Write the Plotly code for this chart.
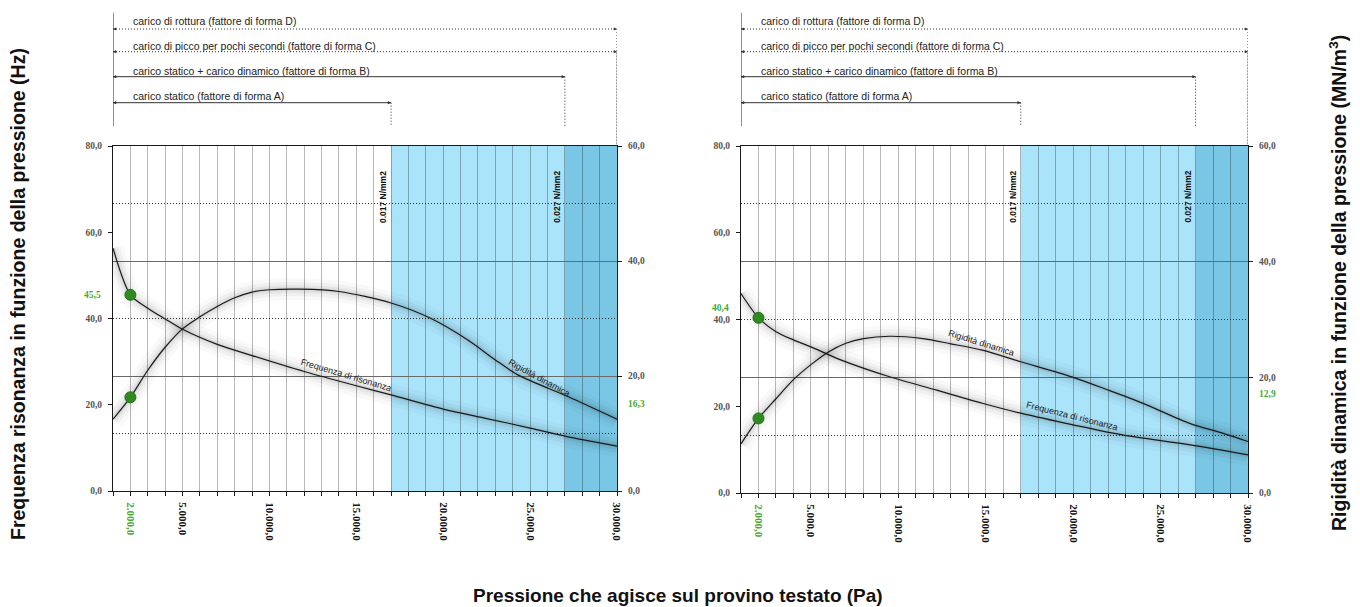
import plotly.graph_objects as go

# ---------------- DATA ----------------
# Left panel
p_freq_L = [1000, 2000, 3000, 4000, 5000, 7000, 9000, 12000, 15000, 17000, 20000, 22500, 25000, 27500, 30000]
freq_L = [56.3, 45.5, 42.4, 39.9, 37.5, 34.0, 31.4, 27.7, 24.4, 22.3, 19.0, 16.8, 14.6, 12.3, 10.4]
p_rig_L = [1000, 2000, 3000, 4000, 5000, 6000, 7000, 8000, 9000, 10000, 11800, 14000, 17000, 19300, 21400, 23000, 24300, 27200, 30000]
rig_L = [12.5, 16.3, 21.0, 25.0, 28.2, 30.3, 32.1, 33.6, 34.6, 35.0, 35.1, 34.7, 32.7, 30.0, 26.3, 22.8, 20.2, 16.4, 12.5]

# Right panel
p_freq_R = [1000, 2000, 3000, 4000, 5000, 6700, 9500, 12200, 14800, 17000, 20000, 22800, 26700, 30000]
freq_R = [46.0, 40.4, 37.2, 35.3, 33.7, 30.7, 26.8, 23.7, 20.7, 18.4, 15.7, 13.4, 11.1, 8.8]
p_rig_R = [1000, 2000, 3000, 4000, 5000, 6000, 7000, 8000, 9500, 11400, 13000, 14800, 17000, 20000, 22000, 24000, 26700, 28500, 30000]
rig_R = [8.5, 12.9, 16.3, 19.6, 22.2, 24.4, 25.9, 26.7, 27.1, 26.7, 25.8, 24.7, 22.7, 20.0, 17.8, 15.5, 12.0, 10.4, 8.9]

# Highlighted points (pressure 2000 Pa)
mark_p = 2000
mark_freq = [45.5, 40.4]
mark_rig = [16.3, 12.9]

# Load thresholds (Pa)
x_start, x_static, x_dyn, x_end = 1000, 17000, 27000, 30000
threshold_labels = ["0.017 N/mm2", "0.027 N/mm2"]

bracket_texts = [
    "carico di rottura (fattore di forma D)",
    "carico di picco per pochi secondi (fattore di forma C)",
    "carico statico + carico dinamico (fattore di forma B)",
    "carico statico (fattore di forma A)",
]
bracket_ends = [x_end, x_end, x_dyn, x_static]
bracket_dash = ["dot", "dot", "solid", "solid"]

x_tick_vals = list(range(1000, 31000, 1000))
x_label_vals = [2000, 5000, 10000, 15000, 20000, 25000, 30000]
yL_ticks = [0, 20, 40, 60, 80]
yR_ticks = [0, 20, 40, 60]
yR_minor = [10, 30, 50]

curve_label_freq = "Frequenza di risonanza"
curve_label_rig = "Rigidità dinamica"

# ---------------- HELPERS ----------------
W, H = 1360, 607
def py(y):
    return 1 - y / H

def it(v, d=1):
    s = f"{v:,.{d}f}"
    return s.replace(",", "X").replace(".", ",").replace("X", ".")

GREEN = "#4aa832"
SANS = "Liberation Sans, Arial, sans-serif"
SERIF = "Liberation Serif, Times New Roman, serif"
FINE_DOT = "1px,2px"

x_tick_text = []
for v in x_tick_vals:
    if v in x_label_vals:
        t = it(v)
        if v == mark_p:
            t = f"<span style='color:{GREEN}'>{t}</span>"
        x_tick_text.append(t)
    else:
        x_tick_text.append("")

fig = go.Figure()

panels = [
    dict(x="x", yl="y", yr="y2", pf=p_freq_L, f=freq_L, pr=p_rig_L, r=rig_L, i=0),
    dict(x="x2", yl="y3", yr="y4", pf=p_freq_R, f=freq_R, pr=p_rig_R, r=rig_R, i=1),
]

for P in panels:
    for (xs, ys, yax) in [(P["pf"], P["f"], P["yl"]), (P["pr"], P["r"], P["yr"])]:
        for w, a in [(22, 0.025), (14, 0.035), (8, 0.045), (4, 0.05)]:
            fig.add_trace(go.Scatter(x=xs, y=ys, xaxis=P["x"], yaxis=yax, mode="lines",
                                     line=dict(color=f"rgba(0,0,0,{a})", width=w, shape="spline", smoothing=0.8),
                                     hoverinfo="skip"))
        fig.add_trace(go.Scatter(x=xs, y=ys, xaxis=P["x"], yaxis=yax, mode="lines",
                                 line=dict(color="#1a1a1a", width=1.2, shape="spline", smoothing=0.8)))
    i = P["i"]
    fig.add_trace(go.Scatter(x=[mark_p], y=[mark_freq[i]], xaxis=P["x"], yaxis=P["yl"], mode="markers",
                             marker=dict(size=11, color="#2f8a1f", line=dict(color="#22701a", width=1))))
    fig.add_trace(go.Scatter(x=[mark_p], y=[mark_rig[i]], xaxis=P["x"], yaxis=P["yr"], mode="markers",
                             marker=dict(size=11, color="#2f8a1f", line=dict(color="#22701a", width=1))))

doms = [[113 / W, 617 / W], [741 / W, 1248 / W]]
ydoms = [[py(491), py(146)], [py(493), py(146)]]

tickfont_y = dict(family=SERIF, size=9.5, color="#555555", weight="bold")
line_col = "#1a1a1a"

layout = dict(
    width=W, height=H, margin=dict(l=0, r=0, t=0, b=0, autoexpand=False),
    paper_bgcolor="white", plot_bgcolor="white", showlegend=False,
    separators=",.",
)
for k, (xa, yl, yr) in enumerate([("xaxis", "yaxis", "yaxis2"), ("xaxis2", "yaxis3", "yaxis4")]):
    xname = "x" if k == 0 else "x2"
    ylname = "y" if k == 0 else "y3"
    layout[xa] = dict(domain=doms[k], anchor=ylname, range=[x_start, x_end], automargin=False,
                      tickmode="array", tickvals=x_tick_vals, ticktext=x_tick_text,
                      tickangle=90, ticks="outside", ticklen=4, tickcolor=line_col,
                      tickfont=dict(family=SERIF, size=11, color="#111111", weight="bold"),
                      showgrid=True, gridcolor="rgba(0,0,0,0.28)", gridwidth=1,
                      showline=True, mirror=True, linecolor=line_col, linewidth=1.2,
                      zeroline=False, ticklabelstandoff=4)
    layout[yl] = dict(domain=ydoms[k], anchor=xname, range=[0, 80], automargin=False,
                      tickmode="array", tickvals=yL_ticks, ticktext=[it(v) for v in yL_ticks],
                      ticks="outside", ticklen=4, tickcolor=line_col, tickfont=tickfont_y,
                      showgrid=False, showline=True, linecolor=line_col, linewidth=1.2, zeroline=False,
                      ticklabelstandoff=4)
    layout[yr] = dict(overlaying=ylname, anchor=xname, side="right", range=[0, 60], automargin=False,
                      tickmode="array", tickvals=yR_ticks, ticktext=[it(v) for v in yR_ticks],
                      ticks="outside", ticklen=4, tickcolor=line_col, tickfont=tickfont_y,
                      showgrid=True, gridcolor="#6a6a6a", gridwidth=1,
                      minor=dict(tickmode="array", tickvals=yR_minor, showgrid=True, griddash=FINE_DOT,
                                 gridcolor="#333333", gridwidth=1, ticks=""),
                      showline=True, linecolor=line_col, linewidth=1.2, zeroline=False,
                      ticklabelstandoff=4)
fig.update_layout(**layout)

shapes = []
annotations = []
for k, P in enumerate(panels):
    xr = P["x"]
    ylname = P["yl"]
    # blue zones
    shapes.append(dict(type="rect", xref=xr, yref=f"{ylname} domain", x0=x_static, x1=x_dyn, y0=0, y1=1,
                       fillcolor="#a9e4fb", line=dict(width=0), layer="below"))
    shapes.append(dict(type="rect", xref=xr, yref=f"{ylname} domain", x0=x_dyn, x1=x_end, y0=0, y1=1,
                       fillcolor="#79c7e5", line=dict(width=0), layer="below"))
    # threshold labels
    for xv, txt in zip([x_static, x_dyn], threshold_labels):
        annotations.append(dict(x=xv, xref=xr, y=py(197), yref="paper", text=txt, textangle=-90,
                                showarrow=False, xanchor="center", yanchor="middle", xshift=-8,
                                font=dict(family=SANS, size=8.5, color="#111", weight="bold")))
    # top brackets
    top_y = [29, 51.7, 76.7, 102.7]
    txt_y = [20.7, 45.7, 70.7, 95.7]
    shapes.append(dict(type="line", xref=xr, yref="paper", x0=x_start, x1=x_start, y0=py(12.7), y1=py(126),
                       line=dict(color="#222", width=1)))
    for t, ye, yt, xe, dsh in zip(bracket_texts, top_y, txt_y, bracket_ends, bracket_dash):
        shapes.append(dict(type="line", xref=xr, yref="paper", x0=x_start, x1=xe, y0=py(ye), y1=py(ye),
                           line=dict(color="#333", width=1, dash=FINE_DOT if dsh == "dot" else "solid")))
        bottom = 146 if xe == x_end else 126
        shapes.append(dict(type="line", xref=xr, yref="paper", x0=xe, x1=xe, y0=py(ye), y1=py(bottom),
                           line=dict(color="#333", width=1, dash=FINE_DOT)))
        for xh, ax in [(xe, -5), (x_start, 5)]:
            annotations.append(dict(x=xh, xref=xr, y=py(ye), yref="paper", ax=ax, ay=0, text="",
                                    showarrow=True, arrowhead=2, arrowsize=0.8, arrowwidth=0.8,
                                    arrowcolor="#333"))
        annotations.append(dict(x=x_start, xref=xr, y=py(yt), yref="paper", text=t, showarrow=False,
                                xanchor="left", yanchor="middle", xshift=18,
                                font=dict(family=SANS, size=10.5, color="#222")))
    # green value labels
    i = P["i"]
    annotations.append(dict(x=doms[k][0], xref="paper", y=mark_freq[i], yref=ylname, text=it(mark_freq[i]),
                            showarrow=False, xanchor="right", yanchor="middle", xshift=-10,
                            yshift=(10 if k == 1 else 0),
                            font=dict(family=SERIF, size=9.5, color=GREEN, weight="bold")))
    annotations.append(dict(x=doms[k][1], xref="paper", y=mark_rig[i], yref=P["yr"], text=it(mark_rig[i]),
                            showarrow=False, xanchor="left", yanchor="middle", xshift=9,
                            yshift=(-7 if k == 0 else 24),
                            font=dict(family=SERIF, size=9.5, color=GREEN, weight="bold")))

# curve labels
curve_lbls = [
    ("x", "y", 14400, 26.8, 16.6, curve_label_freq),
    ("x", "y2", 25550, 19.7, 28.5, curve_label_rig),
    ("x2", "y4", 14770, 25.9, 17.5, curve_label_rig),
    ("x2", "y3", 19940, 17.8, 14.2, curve_label_freq),
]
for xr, yr, xv, yv, ang, txt in curve_lbls:
    annotations.append(dict(x=xv, xref=xr, y=yv, yref=yr, text=txt, textangle=ang, showarrow=False,
                            font=dict(family=SANS, size=9, color="#222")))

# axis titles
annotations.append(dict(x=18 / W, xref="paper", y=py(294), yref="paper", textangle=-90, showarrow=False,
                        xanchor="center", yanchor="middle",
                        text="Frequenza risonanza in funzione della pressione (Hz)",
                        font=dict(family=SANS, size=19.5, color="#111", weight="bold")))
annotations.append(dict(x=1338 / W, xref="paper", y=py(283), yref="paper", textangle=-90, showarrow=False,
                        xanchor="center", yanchor="middle",
                        text="Rigidità dinamica in funzione della pressione (MN/m<sup>3</sup>)",
                        font=dict(family=SANS, size=19.5, color="#111", weight="bold")))
annotations.append(dict(x=678 / W, xref="paper", y=py(595), yref="paper", showarrow=False,
                        xanchor="center", yanchor="middle",
                        text="Pressione che agisce sul provino testato (Pa)",
                        font=dict(family=SANS, size=19, color="#111", weight="bold")))

fig.update_layout(shapes=shapes, annotations=annotations)
fig.write_html("out.html")
